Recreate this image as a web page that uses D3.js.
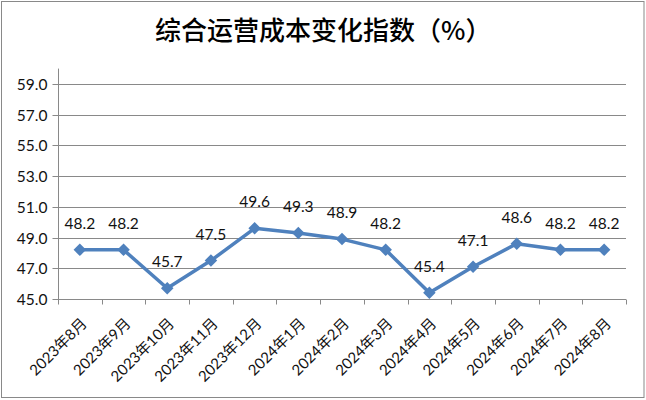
<!DOCTYPE html>
<html><head><meta charset="utf-8">
<script src="https://cdn.jsdelivr.net/npm/d3@7"></script>
<style>html,body{margin:0;padding:0;background:#fff;}svg{display:block;}</style>
</head><body>
<script>
const categories = ["2023年8月","2023年9月","2023年10月","2023年11月","2023年12月","2024年1月","2024年2月","2024年3月","2024年4月","2024年5月","2024年6月","2024年7月","2024年8月"];
const values = [48.2,48.2,45.7,47.5,49.6,49.3,48.9,48.2,45.4,47.1,48.6,48.2,48.2];
const yTicks = [45,47,49,51,53,55,57,59];
const title = "综合运营成本变化指数（%）";

const W = 646, H = 400;
const plot = {left: 58, right: 626, top: 68.6, bottom: 299};
const numFont = "Lato, 'Liberation Sans', sans-serif";
const cjkFont = "Lato, 'Noto Sans CJK SC', sans-serif";
const gridColor = "#898989";
const lineColor = "#4f81bd";

const svg = d3.select("body").append("svg").attr("width", W).attr("height", H);
svg.append("rect").attr("width", W).attr("height", H).attr("fill", "#fff");
svg.append("rect").attr("x", 1.5).attr("y", 1.5).attr("width", 642.5).attr("height", 396)
  .attr("fill", "none").attr("stroke", gridColor).attr("stroke-width", 1);

svg.append("text").attr("x", 155).attr("y", 40)
  .attr("font-family", "'Noto Sans CJK SC', sans-serif").attr("font-size", 26).attr("font-weight", 500)
  .attr("fill", "#000").text(title);

const x = d3.scaleBand().domain(categories).range([plot.left, plot.right]).padding(0);
const y = d3.scaleLinear().domain([45, 60]).range([plot.bottom, plot.top]);

// gridlines
svg.append("g").selectAll("line").data(yTicks.filter(t => t > 45)).join("line")
  .attr("x1", plot.left).attr("x2", plot.right)
  .attr("y1", d => Math.round(y(d)) + 0.5).attr("y2", d => Math.round(y(d)) + 0.5)
  .attr("stroke", gridColor).attr("stroke-width", 1);

// y axis
const yAxis = svg.append("g").attr("transform", `translate(${plot.left + 0.5},0)`)
  .call(d3.axisLeft(y).tickValues(yTicks).tickFormat(d3.format(".1f")).tickSize(6).tickPadding(5));
yAxis.select(".domain").attr("stroke", gridColor).attr("d", `M-0,${plot.top}V${plot.bottom}`);
yAxis.selectAll(".tick line").attr("stroke", gridColor);
yAxis.selectAll(".tick").attr("transform", d => `translate(0,${Math.round(y(d)) + 0.5})`);
yAxis.selectAll("text").attr("font-family", numFont).attr("font-size", 15.5).attr("fill", "#111").attr("dy", "0.36em");

// x axis with boundary ticks
const xg = svg.append("g").attr("transform", `translate(0,${plot.bottom + 0.5})`);
xg.append("line").attr("x1", plot.left).attr("x2", plot.right).attr("stroke", gridColor);
const boundaries = categories.map(c => x(c)).concat([plot.right]);
xg.selectAll("line.tk").data(boundaries).join("line").attr("class", "tk")
  .attr("x1", d => Math.round(d) + 0.5).attr("x2", d => Math.round(d) + 0.5)
  .attr("y1", 0).attr("y2", 5).attr("stroke", gridColor);
xg.selectAll("text").data(categories).join("text")
  .attr("transform", d => `translate(${x(d) + x.bandwidth() / 2 + 8},${25}) rotate(-45)`)
  .attr("text-anchor", "end")
  .attr("font-family", cjkFont).attr("font-size", 15).attr("fill", "#111")
  .text(d => d);

// line
const line = d3.line().x((d, i) => x(categories[i]) + x.bandwidth() / 2).y(d => y(d));
svg.append("path").datum(values).attr("d", line)
  .attr("fill", "none").attr("stroke", lineColor).attr("stroke-width", 3.5).attr("stroke-linejoin", "round");

// markers
const sym = d3.symbol().type(d3.symbolDiamond2).size(100);
svg.append("g").selectAll("path").data(values).join("path")
  .attr("transform", (d, i) => `translate(${x(categories[i]) + x.bandwidth() / 2},${y(d)})`)
  .attr("d", sym).attr("fill", lineColor);

// labels
svg.append("g").selectAll("text").data(values).join("text")
  .attr("x", (d, i) => x(categories[i]) + x.bandwidth() / 2)
  .attr("y", d => y(d) - 21)
  .attr("text-anchor", "middle")
  .attr("font-family", numFont).attr("font-size", 15.5).attr("fill", "#111")
  .text(d => d3.format(".1f")(d));
</script>
</body></html>
